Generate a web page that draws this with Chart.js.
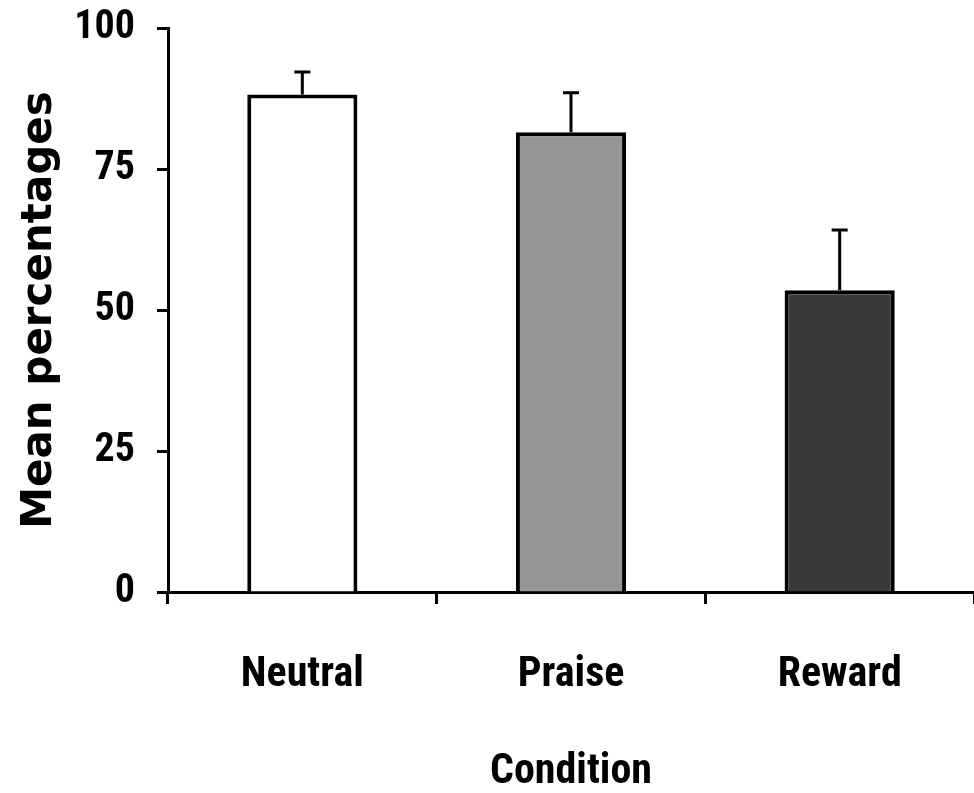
<!DOCTYPE html>
<html>
<head>
<meta charset="utf-8">
<script src="https://cdn.jsdelivr.net/npm/chart.js@4.4.0/dist/chart.umd.min.js"></script>
<style>
  html, body { margin: 0; padding: 0; background: #fff; }
  #chart { display: block; }
</style>
</head>
<body>
<canvas id="chart" width="974" height="793"></canvas>
<script>
const conditions = ['Neutral', 'Praise', 'Reward'];
const meanPercent = [88.2, 81.5, 53.5];
const errorUp = [4.0, 7.0, 10.7];
const barColors = ['#ffffff', '#959595', '#3a3a3a'];
const yTicks = [0, 25, 50, 75, 100];

// Roboto is variable here, so 'condensed' in the font string gives a narrow face
const narrowFont = (size) => ({ family: 'Roboto, sans-serif', size: size, weight: 'bold condensed' });

// draws the upper error whiskers on top of each bar
const errorBars = {
  id: 'errorBars',
  afterDatasetsDraw(chart) {
    const ctx = chart.ctx;
    const y = chart.scales.y;
    const meta = chart.getDatasetMeta(0);
    ctx.save();
    ctx.strokeStyle = '#000';
    ctx.lineWidth = 3;
    meta.data.forEach((bar, i) => {
      const top = y.getPixelForValue(meanPercent[i] + errorUp[i]);
      ctx.beginPath();
      ctx.moveTo(bar.x, bar.y);
      ctx.lineTo(bar.x, top);
      ctx.moveTo(bar.x - 8, top);
      ctx.lineTo(bar.x + 8, top);
      ctx.stroke();
    });
    ctx.restore();
  }
};

new Chart(document.getElementById('chart').getContext('2d'), {
  type: 'bar',
  data: {
    labels: conditions,
    datasets: [{
      data: meanPercent,
      backgroundColor: barColors,
      borderColor: '#000',
      borderWidth: 4,
      categoryPercentage: 1,
      barPercentage: 0.41
    }]
  },
  options: {
    responsive: false,
    animation: false,
    layout: { padding: { top: 28, left: 0, right: 0, bottom: 0 } },
    plugins: {
      legend: { display: false },
      tooltip: { enabled: false }
    },
    scales: {
      x: {
        grid: {
          drawOnChartArea: false,
          tickLength: 12,
          tickWidth: 3,
          tickColor: '#000'
        },
        border: { display: true, color: '#000', width: 3 },
        ticks: {
          color: '#000',
          padding: 46,
          font: narrowFont(42)
        },
        title: {
          display: true,
          text: 'Condition',
          color: '#000',
          padding: 0,
          font: { ...narrowFont(42), lineHeight: 1 }
        },
        afterFit(scale) {
          scale.height = 201;
          scale.paddingLeft = 0;
          scale.paddingRight = 0;
        }
      },
      y: {
        min: 0,
        max: 100,
        afterBuildTicks(scale) { scale.ticks = yTicks.map(v => ({ value: v })); },
        grid: {
          drawOnChartArea: false,
          tickLength: 11,
          tickWidth: 3,
          tickColor: '#000'
        },
        border: { display: true, color: '#000', width: 3 },
        ticks: {
          color: '#000',
          padding: 22,
          font: narrowFont(40)
        },
        title: {
          display: true,
          text: 'Mean percentages',
          color: '#000',
          padding: { top: 15, bottom: 0 },
          font: { family: "'DejaVu Sans', sans-serif", size: 42, weight: 'bold' }
        },
        afterFit(scale) {
          scale.width = 168;
          scale.paddingTop = 0;
          scale.paddingBottom = 0;
        }
      }
    }
  },
  plugins: [errorBars]
});
</script>
</body>
</html>
